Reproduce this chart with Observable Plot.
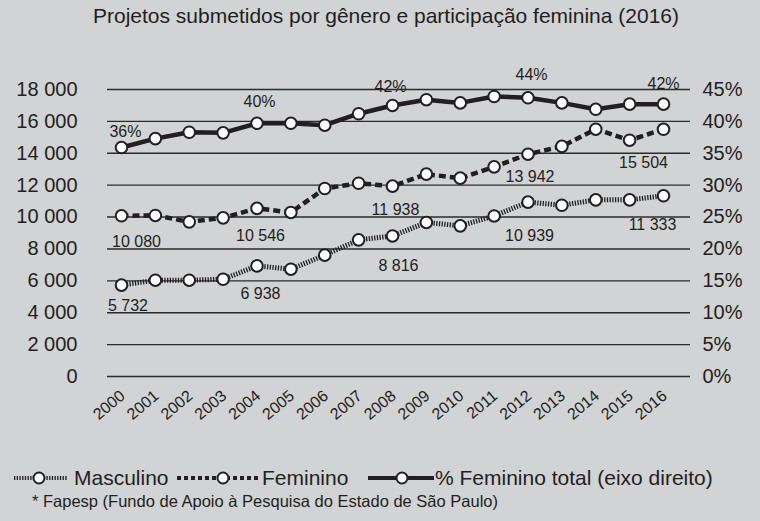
<!DOCTYPE html>
<html><head><meta charset="utf-8">
<script src="https://cdn.jsdelivr.net/npm/d3@7"></script>
<script src="https://cdn.jsdelivr.net/npm/@observablehq/plot@0.6"></script>
<style>
html,body{margin:0;padding:0;background:#d1d3d4;}
body{width:760px;height:521px;position:relative;overflow:hidden;font-family:"Liberation Sans",Arial,sans-serif;color:#231f20;}
#title{position:absolute;left:0;top:0;width:760px;height:32px;line-height:32px;text-align:center;font-size:21px;padding-left:12px;box-sizing:border-box;}
#chart{position:absolute;left:0;top:32px;}
#legsym{position:absolute;left:0;top:466px;}
.leg{position:absolute;font-size:21px;line-height:24px;top:466px;white-space:nowrap;}
#caption{position:absolute;left:32px;top:491px;font-size:16.5px;line-height:20px;white-space:nowrap;}
</style></head><body>
<div id="title">Projetos submetidos por gênero e participação feminina (2016)</div>
<div id="chart"></div>
<svg id="legsym" width="760" height="24">
  <line x1="14" x2="68" y1="12" y2="12" stroke="#231f20" stroke-width="4" stroke-dasharray="1.3,1.4"/>
  <circle cx="39" cy="12" r="5.5" fill="white" stroke="#231f20" stroke-width="2"/>
  <line x1="177" x2="259" y1="12" y2="12" stroke="#231f20" stroke-width="4" stroke-dasharray="4,3"/>
  <circle cx="223" cy="12" r="5.5" fill="white" stroke="#231f20" stroke-width="2"/>
  <line x1="368" x2="434" y1="12" y2="12" stroke="#231f20" stroke-width="4"/>
  <circle cx="402" cy="12" r="5.5" fill="white" stroke="#231f20" stroke-width="2"/>
</svg>
<div class="leg" style="left:74px">Masculino</div>
<div class="leg" style="left:262px">Feminino</div>
<div class="leg" style="left:435px">% Feminino total (eixo direito)</div>
<div id="caption">* Fapesp (Fundo de Apoio à Pesquisa do Estado de São Paulo)</div>
<script>
const years = [2000,2001,2002,2003,2004,2005,2006,2007,2008,2009,2010,2011,2012,2013,2014,2015,2016];
const masculino = [5732,6040,6040,6100,6938,6730,7610,8570,8816,9660,9450,10070,10939,10740,11080,11080,11333];
const feminino = [10080,10100,9700,9950,10546,10290,11790,12120,11938,12690,12440,13150,13942,14430,15510,14820,15504];
const pctFeminino = [35.9,37.3,38.3,38.2,39.7,39.7,39.4,41.2,42.5,43.4,42.9,43.9,43.7,42.9,41.9,42.7,42.7];
const leftTicks = [0,2000,4000,6000,8000,10000,12000,14000,16000,18000];
const rightTickLabels = ["0%","5%","10%","15%","20%","25%","30%","35%","40%","45%"];
const yearLabels = ["2000","2001","2002","2003","2004","2005","2006","2007","2008","2009","2010","2011","2012","2013","2014","2015","2016"];
const labelYears = [2000,2004,2008,2012,2016];
const pctLabels = ["36%","40%","42%","44%","42%"];

// percent axis (right) maps 45% to 18000
const pctToCount = 18000 / 45;

const rows = years.map((year, i) => ({year, masc: masculino[i], fem: feminino[i], pct: pctFeminino[i]}));
const fmt = v => d3.format(",")(v).replace(/,/g, " ");
const ink = "#231f20";
const row = y => rows.filter(d => d.year === y);

const mascOff = [[6.5,20.4],[3.5,27.6],[6,29.6],[1.5,33.4],[-11,29.2]];
const femOff = [[15,26.4],[3.5,27.1],[3,23.3],[2,22.3],[-20,33.7]];
const pctOff = [[4,-16],[2.5,-21.8],[-2,-18.9],[3.5,-22.8],[0,-20.2]];

const labelMarks = [];
labelYears.forEach((y, i) => {
  labelMarks.push(Plot.text(row(y), {x: "year", y: "masc", text: d => fmt(d.masc), dx: mascOff[i][0], dy: mascOff[i][1], fontSize: 16, fill: ink}));
  labelMarks.push(Plot.text(row(y), {x: "year", y: "fem", text: d => fmt(d.fem), dx: femOff[i][0], dy: femOff[i][1], fontSize: 16, fill: ink}));
  labelMarks.push(Plot.text(row(y), {x: "year", y: d => d.pct * pctToCount, text: () => pctLabels[i], dx: pctOff[i][0], dy: pctOff[i][1], fontSize: 16, fill: ink}));
});

const chart = Plot.plot({
  width: 760, height: 418,
  marginTop: 57, marginBottom: 74, marginLeft: 107, marginRight: 70,
  style: {background: "transparent", fontFamily: "'Liberation Sans', Arial, sans-serif", fontSize: "20px", color: ink},
  x: {domain: [1999.587, 2016.797], axis: null},
  y: {domain: [0, 18000], axis: null},
  marks: [
    Plot.ruleY(leftTicks, {stroke: "#2b2b2b", strokeWidth: 1.4}),
    Plot.axisY({anchor: "left", ticks: leftTicks, tickFormat: d => d === 0 ? "0" : fmt(d), tickSize: 0, tickPadding: 30, fontSize: 20, label: null}),
    Plot.axisY({anchor: "right", ticks: leftTicks, tickFormat: d => rightTickLabels[leftTicks.indexOf(d)], tickSize: 0, tickPadding: 12, fontSize: 20, label: null}),
    Plot.text(years, {x: d => d, frameAnchor: "bottom", text: (d, i) => yearLabels[i], rotate: -40, textAnchor: "end", dx: 4.5, dy: 21, fontSize: 16, fill: ink}),
    Plot.line(rows, {x: "year", y: "masc", stroke: ink, strokeWidth: 5, strokeDasharray: "1.3,1.4", strokeLinecap: "butt"}),
    Plot.line(rows, {x: "year", y: "fem", stroke: ink, strokeWidth: 4.5, strokeDasharray: "7,4", strokeLinecap: "butt"}),
    Plot.line(rows, {x: "year", y: d => d.pct * pctToCount, stroke: ink, strokeWidth: 4.5}),
    Plot.dot(rows, {x: "year", y: "masc", r: 5.8, fill: "white", stroke: ink, strokeWidth: 2}),
    Plot.dot(rows, {x: "year", y: "fem", r: 5.8, fill: "white", stroke: ink, strokeWidth: 2}),
    Plot.dot(rows, {x: "year", y: d => d.pct * pctToCount, r: 5.8, fill: "white", stroke: ink, strokeWidth: 2}),
    ...labelMarks
  ]
});
document.getElementById("chart").appendChild(chart);
</script>
</body></html>
